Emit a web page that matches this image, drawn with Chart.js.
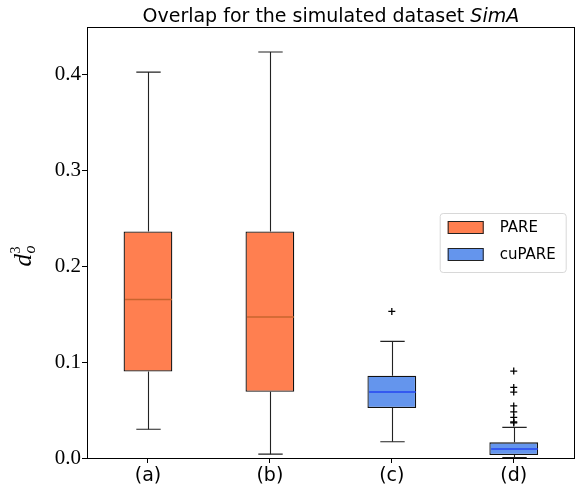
<!DOCTYPE html>
<html>
<head>
<meta charset="utf-8">
<script src="https://cdn.jsdelivr.net/npm/chart.js@4.4.1/dist/chart.umd.min.js"></script>
<style>
  html, body { margin: 0; padding: 0; background: #fff; }
  #wrap { width: 580px; height: 494px; }
</style>
</head>
<body>
<div id="wrap"><canvas id="chart" width="580" height="494"></canvas></div>
<script>
// Données
const categories = ['(a)', '(b)', '(c)', '(d)'];
const seriesNames = ['PARE', 'cuPARE'];
const seriesOf = [0, 0, 1, 1]; // quelle série pour chaque catégorie
const whiskerLow = [0.030, 0.004, 0.017, 0.0005];
const q1 = [0.090, 0.069, 0.052, 0.0031];
const median = [0.165, 0.147, 0.0687, 0.0094];
const q3 = [0.236, 0.236, 0.0857, 0.0163];
const whiskerHigh = [0.402, 0.423, 0.1215, 0.0319];
const outliersC = [0.1527];
const outliersD = [0.0906, 0.0735, 0.0687, 0.0542, 0.0480, 0.0423, 0.0375, 0.0365];
const yTicks = [0.0, 0.1, 0.2, 0.3, 0.4];

const fillColors = ['#ff7f50', '#6495ed'];
const medianColors = ['#c8642e', '#2446f0'];

// boîtes = barres flottantes [q1, q3]
function boxData(s) {
    return categories.map((c, i) => seriesOf[i] === s ? [q1[i], q3[i]] : null);
}

const outlierPoints = [];
outliersC.forEach(v => outlierPoints.push({ x: '(c)', y: v }));
outliersD.forEach(v => outlierPoints.push({ x: '(d)', y: v }));

// moustaches, médianes, cadre, légende, titres
const boxPlugin = {
    id: 'boxExtras',
    afterDatasetsDraw(chart) {
        const ctx = chart.ctx;
        const y = chart.scales.y;
        ctx.save();
        categories.forEach((c, i) => {
            const s = seriesOf[i];
            const bar = chart.getDatasetMeta(s).data[i];
            const cx = Math.round(bar.x) + 0.5;
            const half = bar.width / 2;
            const capHalf = half / 2;
            ctx.strokeStyle = '#222';
            ctx.lineWidth = 1.1;
            ctx.beginPath();
            ctx.moveTo(cx, y.getPixelForValue(q3[i]));
            ctx.lineTo(cx, y.getPixelForValue(whiskerHigh[i]));
            ctx.moveTo(cx, y.getPixelForValue(q1[i]));
            ctx.lineTo(cx, y.getPixelForValue(whiskerLow[i]));
            ctx.stroke();
            ctx.beginPath();
            ctx.moveTo(cx - capHalf, y.getPixelForValue(whiskerHigh[i]));
            ctx.lineTo(cx + capHalf, y.getPixelForValue(whiskerHigh[i]));
            ctx.moveTo(cx - capHalf, y.getPixelForValue(whiskerLow[i]));
            ctx.lineTo(cx + capHalf, y.getPixelForValue(whiskerLow[i]));
            ctx.stroke();
            ctx.strokeStyle = medianColors[s];
            ctx.lineWidth = 1.5;
            ctx.beginPath();
            ctx.moveTo(cx - half + 1, y.getPixelForValue(median[i]));
            ctx.lineTo(cx + half - 1, y.getPixelForValue(median[i]));
            ctx.stroke();
        });
        ctx.restore();
    },
    afterDraw(chart) {
        const ctx = chart.ctx;
        const a = chart.chartArea;
        ctx.save();
        // cadre
        ctx.strokeStyle = '#000';
        ctx.lineWidth = 1;
        ctx.strokeRect(Math.round(a.left) + 0.5, Math.round(a.top) + 0.5,
            Math.round(a.right - a.left) - 1, Math.round(a.bottom - a.top));

        // titre
        const t1 = 'Overlap for the simulated dataset ';
        const t2 = 'SimA';
        ctx.fillStyle = '#000';
        ctx.textBaseline = 'alphabetic';
        ctx.font = '19px "DejaVu Sans"';
        const w1 = ctx.measureText(t1).width;
        ctx.font = 'italic 19px "DejaVu Sans"';
        const w2 = ctx.measureText(t2).width;
        const tx = (a.left + a.right) / 2 - (w1 + w2) / 2;
        ctx.textAlign = 'left';
        ctx.font = '19px "DejaVu Sans"';
        ctx.fillText(t1, tx, 22);
        ctx.font = 'italic 19px "DejaVu Sans"';
        ctx.fillText(t2, tx + w1, 22);

        // label axe y : d_o^3
        ctx.translate(31, (a.top + a.bottom) / 2 + 14);
        ctx.rotate(-Math.PI / 2);
        ctx.font = 'italic 25px "Liberation Serif"';
        ctx.textAlign = 'left';
        ctx.fillText('d', -10, 0);
        ctx.font = 'italic 16px "Liberation Serif"';
        ctx.fillText('o', 3, 4);
        ctx.font = '14px "Liberation Serif"';
        ctx.fillText('3', 3, -11);
        ctx.setTransform(1, 0, 0, 1, 0, 0);

        // légende
        const lw = 126, lh = 59;
        const lx = a.right - 9 - lw;
        const ly = (a.top + a.bottom) / 2 - lh / 2;
        ctx.fillStyle = 'rgba(255,255,255,0.8)';
        ctx.strokeStyle = '#d8d8d8';
        ctx.lineWidth = 1;
        ctx.beginPath();
        ctx.roundRect(lx + 0.5, ly + 0.5, lw, lh, 3);
        ctx.fill();
        ctx.stroke();
        seriesNames.forEach((name, k) => {
            const py = ly + 8 + k * 27;
            ctx.fillStyle = fillColors[k];
            ctx.fillRect(lx + 8, py, 36, 13);
            ctx.strokeStyle = '#222';
            ctx.strokeRect(lx + 8.5, py + 0.5, 35, 12);
            ctx.fillStyle = '#000';
            ctx.font = '15px "DejaVu Sans"';
            ctx.textBaseline = 'middle';
            ctx.fillText(name, lx + 60, py + 7);
        });
        ctx.restore();
    }
};

new Chart(document.getElementById('chart'), {
    type: 'bar',
    data: {
        labels: categories,
        datasets: [
            {
                label: seriesNames[0],
                data: boxData(0),
                backgroundColor: fillColors[0],
                borderColor: '#111',
                borderWidth: 1.3,
                borderSkipped: false,
                grouped: false,
                barPercentage: 0.4,
                categoryPercentage: 1.0
            },
            {
                label: seriesNames[1],
                data: boxData(1),
                backgroundColor: fillColors[1],
                borderColor: '#111',
                borderWidth: 1.3,
                borderSkipped: false,
                grouped: false,
                barPercentage: 0.4,
                categoryPercentage: 1.0
            },
            {
                type: 'line',
                label: 'outliers',
                data: outlierPoints,
                showLine: false,
                pointStyle: 'cross',
                pointRadius: 3.5,
                pointBorderColor: '#000',
                pointBorderWidth: 1.3
            }
        ]
    },
    options: {
        responsive: false,
        animation: false,
        devicePixelRatio: 1,
        layout: { padding: { top: 27, right: 3, left: 0, bottom: 0 } },
        plugins: {
            legend: { display: false },
            title: { display: false },
            tooltip: { enabled: false }
        },
        scales: {
            x: {
                offset: true,
                grid: { display: true, offset: false, drawOnChartArea: false, color: '#000', tickLength: 5 },
                border: { display: false },
                ticks: { color: '#000', padding: 2, font: { family: 'DejaVu Sans', size: 19 } },
                afterFit(scale) { scale.height = 36; }
            },
            y: {
                min: 0,
                max: 0.449,
                grid: { display: true, drawOnChartArea: false, color: '#000', tickLength: 5 },
                border: { display: false },
                afterBuildTicks(scale) { scale.ticks = yTicks.map(v => ({ value: v })); },
                ticks: {
                    color: '#000',
                    padding: 1,
                    font: { family: 'Liberation Serif', size: 21 },
                    callback: v => v.toFixed(1)
                },
                afterFit(scale) { scale.width = 87; }
            }
        }
    },
    plugins: [boxPlugin]
});
</script>
</body>
</html>
